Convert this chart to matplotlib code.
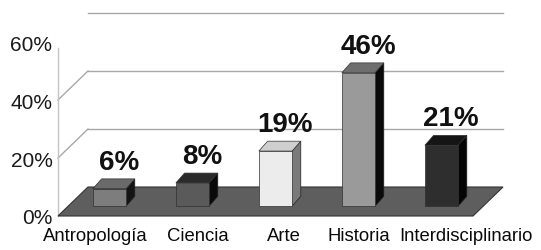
import matplotlib
matplotlib.use('Agg')
import matplotlib.pyplot as plt
from matplotlib.patches import Polygon
import numpy as np

plt.rcParams['font.family'] = ['Liberation Sans', 'DejaVu Sans']

categories = ['Antropología', 'Ciencia', 'Arte', 'Historia', 'Interdisciplinario']
values = [6, 8, 19, 46, 21]
yticks = [0, 20, 40, 60]
ytick_labels = ['0%', '20%', '40%', '60%']

# bar face colours (front, top, side) in gray
front_cols = ['#7d7d7d', '#5a5a5a', '#ececec', '#9a9a9a', '#2e2e2e']
top_cols = ['#6a6a6a', '#2a2a2a', '#cfcfcf', '#6e6e6e', '#151515']
side_cols = ['#141414', '#0a0a0a', '#7a7a7a', '#0a0a0a', '#050505']
label_nudge = [-0.17, 0.06, 0.1, 0.0, 0.3]

# pseudo 3d geometry (data units)
DX, DY = 0.361, 10.0      # depth of floor / walls
BX, BY = 0.12, 3.4        # bar set-back from front
BDX, BDY = 0.105, 3.4     # bar depth
W = 0.4

fig = plt.figure(figsize=(5.41, 2.51), dpi=100)
ax = fig.add_axes([58/541, 34/251, 444/541, 217/251])
ax.set_xlim(-0.5, 4.849)
ax.set_ylim(0, 74.83)
for s in ax.spines.values():
    s.set_visible(False)

x = np.arange(len(categories))
grid_c = '#a8a8a8'

# back gridlines and diagonals
for t in yticks[1:]:
    ax.plot([-0.5 + DX, 4.5 + DX], [t + DY, t + DY], color=grid_c, lw=1.0, zorder=1, clip_on=False)
    if t < 60:
        ax.plot([-0.5, -0.5 + DX], [t, t + DY], color=grid_c, lw=1.0, zorder=1, clip_on=False)
ax.plot([-0.5, -0.5], [0, 58], color='#c4c4c4', lw=1.0, zorder=1, clip_on=False)

# floor
floor = Polygon([(-0.5, 0), (4.5, 0), (4.5 + DX, DY), (-0.5 + DX, DY)],
                closed=True, facecolor='#5e5e5e', edgecolor='#333333', lw=0.8, zorder=2, clip_on=False)
ax.add_patch(floor)

# bars
left = x + BX - W / 2
ax.bar(x + BX, values, width=W, bottom=BY, color=front_cols, edgecolor='#303030', lw=0.5, zorder=4)
for i, v in enumerate(values):
    l, r, top = left[i], left[i] + W, v + BY
    ax.add_patch(Polygon([(l, top), (r, top), (r + BDX, top + BDY), (l + BDX, top + BDY)],
                         closed=True, facecolor=top_cols[i], edgecolor='#303030', lw=0.5, zorder=4))
    ax.add_patch(Polygon([(r, BY), (r, top), (r + BDX, top + BDY), (r + BDX, BY + BDY)],
                         closed=True, facecolor=side_cols[i], edgecolor='#202020', lw=0.5, zorder=3))
    ax.text(x[i] + BX + BDX * 1.1, top + BDY + 1.5, f'{v}%', ha='center', va='bottom',
            fontsize=20, fontweight='bold', color='#111111', zorder=5)

# axis labels
ax.set_yticks(yticks)
ax.set_yticklabels(ytick_labels, fontsize=15, color='#1a1a1a')
ax.tick_params(axis='y', length=0, pad=4)
ax.set_xticks([])
for i, c in enumerate(categories):
    ax.text(x[i] + BX + label_nudge[i], -3.8, c, ha='center', va='top', fontsize=13.3, color='#0a0a0a',
            clip_on=False)

fig.savefig('out.png', dpi=100)
